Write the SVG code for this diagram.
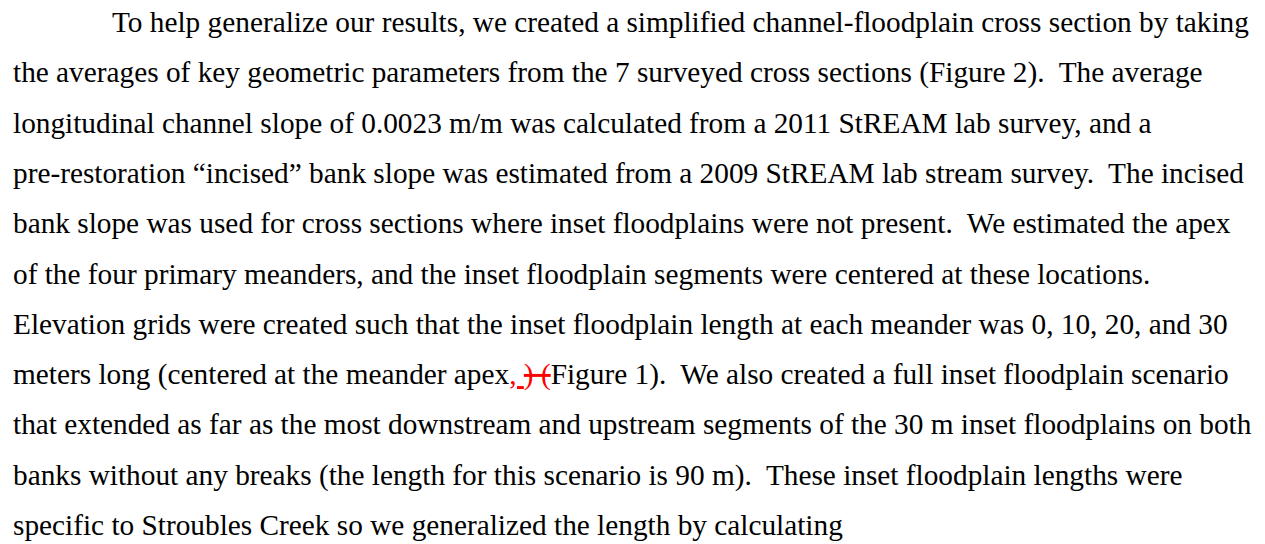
<svg xmlns="http://www.w3.org/2000/svg" width="1265" height="544" viewBox="0 0 1265 544">
  <style>
    .body { font-family: "Liberation Serif", "Times New Roman", serif; font-size: 29.3px; fill: #000; }
    .body text { white-space: pre; }
    .ins { fill: #ff0000; text-decoration: underline; }
    .del { fill: #ff0000; text-decoration: line-through; }
  </style>
  <rect width="1265" height="544" fill="#ffffff"/>
  <g id="paragraph" class="body" xml:space="preserve">
    <text x="112" y="32.3">To help generalize our results, we created a simplified channel-floodplain cross section by taking</text>
    <text x="13" y="82.3">the averages of key geometric parameters from the 7 surveyed cross sections (Figure 2).  The average</text>
    <text x="13" y="132.6">longitudinal channel slope of 0.0023 m/m was calculated from a 2011 StREAM lab survey, and a</text>
    <text x="13" y="182.9">pre-restoration “incised” bank slope was estimated from a 2009 StREAM lab stream survey.  The incised</text>
    <text x="13" y="233.2">bank slope was used for cross sections where inset floodplains were not present.  We estimated the apex</text>
    <text x="13" y="283.5">of the four primary meanders, and the inset floodplain segments were centered at these locations.</text>
    <text x="13" y="333.8">Elevation grids were created such that the inset floodplain length at each meander was 0, 10, 20, and 30</text>
    <text x="13" y="384.1">meters long (centered at the meander apex<tspan class="ins">, </tspan><tspan class="del">) (</tspan>Figure 1).  We also created a full inset floodplain scenario</text>
    <text x="13" y="434.4">that extended as far as the most downstream and upstream segments of the 30 m inset floodplains on both</text>
    <text x="13" y="484.7">banks without any breaks (the length for this scenario is 90 m).  These inset floodplain lengths were</text>
    <text x="13" y="535">specific to Stroubles Creek so we generalized the length by calculating</text>
  </g>
</svg>
